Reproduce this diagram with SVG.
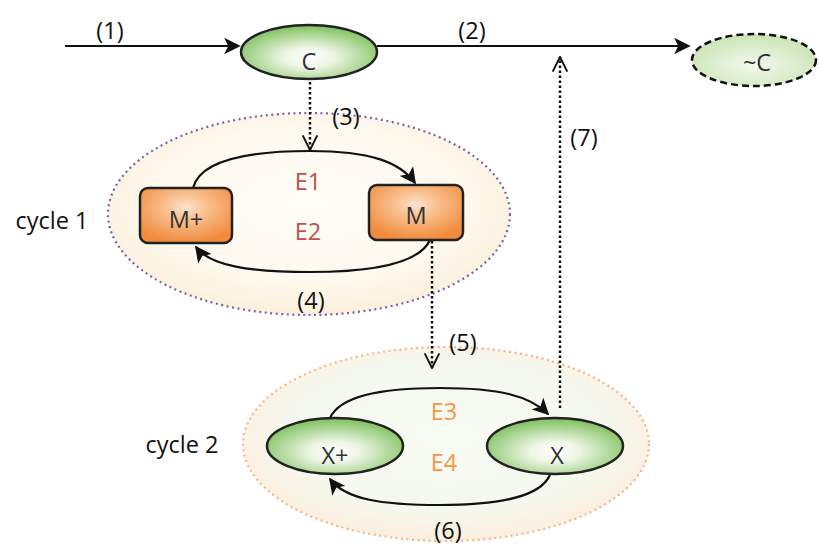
<svg xmlns="http://www.w3.org/2000/svg" width="819" height="545" viewBox="0 0 819 545">
<style>
text{font-family:"Open Sans","Liberation Sans",sans-serif;font-size:23.5px;text-anchor:middle;dominant-baseline:central}
.lbl{fill:#111}
.node{fill:#333}
.e1{fill:#c0504d}
.e3{fill:#f79646}
.solid{fill:none;stroke:#111;stroke-width:2.2}
.dot{fill:none;stroke:#111;stroke-width:2.5;stroke-dasharray:2.5 2.5}
.nstroke{stroke:#222;stroke-width:2.5}
</style>
<defs>
<radialGradient id="gG" cx="0.5" cy="0.6" r="0.6">
<stop offset="0" stop-color="#ffffff"/><stop offset="0.3" stop-color="#eef6e6"/><stop offset="1" stop-color="#7cbf5a"/>
</radialGradient>
<radialGradient id="gG2" cx="0.5" cy="0.6" r="0.6">
<stop offset="0" stop-color="#f4f9ee"/><stop offset="1" stop-color="#c9e4b4"/>
</radialGradient>
<radialGradient id="gO" cx="0.5" cy="0.35" r="0.65">
<stop offset="0" stop-color="#fde4cf"/><stop offset="0.35" stop-color="#f9c08f"/><stop offset="1" stop-color="#f08a3c"/>
</radialGradient>
<radialGradient id="gC1" cx="0.5" cy="0.45" r="0.55">
<stop offset="0" stop-color="#fffdf7"/><stop offset="0.7" stop-color="#fef9ee"/><stop offset="1" stop-color="#fcf0dc"/>
</radialGradient>
<radialGradient id="gC2" cx="0.5" cy="0.45" r="0.55">
<stop offset="0" stop-color="#f8fbf3"/><stop offset="0.7" stop-color="#f5f8ee"/><stop offset="1" stop-color="#fcefe0"/>
</radialGradient>
<marker id="ah" viewBox="0 0 10 10" refX="9" refY="5" markerWidth="7.5" markerHeight="7.5" orient="auto" markerUnits="strokeWidth">
<path d="M0,0 L10,5 L0,10 L2.5,5 z" fill="#111"/>
</marker>
<marker id="av" viewBox="0 0 12 12" refX="11" refY="6" markerWidth="7" markerHeight="7" orient="auto" markerUnits="strokeWidth">
<path d="M1,1 L11,6 L1,11" fill="none" stroke="#111" stroke-width="1.3"/>
</marker>
</defs>

<g id="cycle1">
<ellipse cx="309" cy="214" rx="201" ry="101" fill="url(#gC1)" stroke="#7f5fa8" stroke-width="2.2" stroke-dasharray="2 3.5"/>
<text x="52" y="220" class="lbl">cycle 1</text>
</g>
<g id="cycle2">
<ellipse cx="446" cy="444" rx="203" ry="97" fill="url(#gC2)" stroke="#f8b383" stroke-width="2.2" stroke-dasharray="2 3.5"/>
<text x="182" y="444" class="lbl">cycle 2</text>
</g>

<g id="connectors">
<line x1="65" y1="46" x2="239" y2="46" class="solid" marker-end="url(#ah)"/>
<line x1="377" y1="46" x2="689" y2="46" class="solid" marker-end="url(#ah)"/>
<line x1="310" y1="82" x2="310" y2="150" class="dot" marker-end="url(#av)"/>
<path d="M193,188 C200,160 250,151 310,151 C370,151 400,162 415,183" class="solid" marker-end="url(#ah)"/>
<path d="M430,240 C420,262 380,272 310,272 C250,272 210,266 196,247" class="solid" marker-end="url(#ah)"/>
<line x1="432" y1="241" x2="432" y2="368" class="dot" marker-end="url(#av)"/>
<path d="M330,418 C340,396 380,388 440,388 C500,388 530,396 548,414" class="solid" marker-end="url(#ah)"/>
<path d="M550,475 C540,497 500,505 440,505 C380,505 345,499 330,479" class="solid" marker-end="url(#ah)"/>
<line x1="560" y1="408" x2="560" y2="57" class="dot" marker-end="url(#av)"/>
<text x="110" y="30" class="lbl">(1)</text>
<text x="472" y="30" class="lbl">(2)</text>
<text x="346" y="116" class="lbl">(3)</text>
<text x="311" y="300" class="lbl">(4)</text>
<text x="463" y="342" class="lbl">(5)</text>
<text x="448" y="530" class="lbl">(6)</text>
<text x="584" y="137" class="lbl">(7)</text>
<text x="308" y="181" class="e1">E1</text>
<text x="308" y="231" class="e1">E2</text>
<text x="444" y="411" class="e3">E3</text>
<text x="444" y="462" class="e3">E4</text>
</g>

<g id="C">
<ellipse cx="309" cy="52" rx="68" ry="27" fill="url(#gG)" class="nstroke"/>
<text x="309" y="61" class="node">C</text>
</g>
<g id="notC">
<ellipse cx="754" cy="60" rx="62" ry="26" fill="url(#gG2)" stroke="#111" stroke-width="2.5" stroke-dasharray="7 4"/>
<text x="757" y="62" class="node">~C</text>
</g>
<g id="Mplus">
<rect x="140" y="188" width="92" height="55" rx="8" fill="url(#gO)" class="nstroke"/>
<text x="186" y="219" class="node">M+</text>
</g>
<g id="M">
<rect x="369" y="185" width="94" height="55" rx="8" fill="url(#gO)" class="nstroke"/>
<text x="416" y="215" class="node">M</text>
</g>
<g id="Xplus">
<ellipse cx="335" cy="446" rx="68" ry="28" fill="url(#gG)" class="nstroke"/>
<text x="335" y="455" class="node">X+</text>
</g>
<g id="X">
<ellipse cx="555" cy="446" rx="68" ry="28" fill="url(#gG)" class="nstroke"/>
<text x="557" y="455" class="node">X</text>
</g>
</svg>
